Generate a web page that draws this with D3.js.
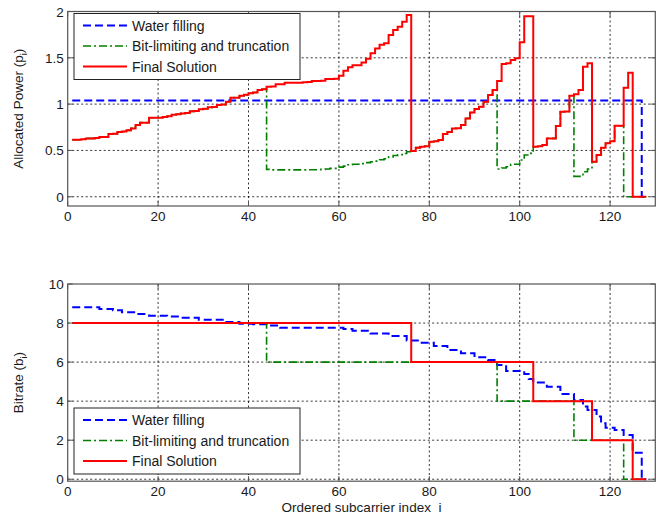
<!DOCTYPE html>
<html>
<head>
<meta charset="utf-8">
<script src="https://cdnjs.cloudflare.com/ajax/libs/d3/7.8.5/d3.min.js"></script>
<style>
body { margin: 0; background: #fff; }
text { font-family: "Liberation Sans", Arial, sans-serif; fill: #1a1a1a; }
</style>
</head>
<body>
<svg width="664" height="526"></svg>
<script>
// subcarrier index i = 1..128 (stairs, value held from i to i+1)
var subcarriers = d3.range(1, 129);

var xTicks = [0, 20, 40, 60, 80, 100, 120];
var powerTicks = [0, 0.5, 1, 1.5, 2];
var bitTicks = [0, 2, 4, 6, 8, 10];
var seriesNames = ["Water filling", "Bit-limiting and truncation", "Final Solution"];

var powerWater = [
 1.04,1.04,1.04,1.04,1.04,1.04,1.04,1.04,1.04,1.04,1.04,1.04,1.04,1.04,1.04,1.04,
 1.04,1.04,1.04,1.04,1.04,1.04,1.04,1.04,1.04,1.04,1.04,1.04,1.04,1.04,1.04,1.04,
 1.04,1.04,1.04,1.04,1.04,1.04,1.04,1.04,1.04,1.04,1.04,1.04,1.04,1.04,1.04,1.04,
 1.04,1.04,1.04,1.04,1.04,1.04,1.04,1.04,1.04,1.04,1.04,1.04,1.04,1.04,1.04,1.04,
 1.04,1.04,1.04,1.04,1.04,1.04,1.04,1.04,1.04,1.04,1.04,1.04,1.04,1.04,1.04,1.04,
 1.04,1.04,1.04,1.04,1.04,1.04,1.04,1.04,1.04,1.04,1.04,1.04,1.04,1.04,1.04,1.04,
 1.04,1.04,1.04,1.04,1.04,1.04,1.04,1.04,1.04,1.04,1.04,1.04,1.04,1.04,1.04,1.04,
 1.04,1.04,1.04,1.04,1.04,1.04,1.04,1.04,1.04,1.04,1.04,1.04,1.04,1.04,0,0];

var powerBitLimit = [
 0.616,0.616,0.62,0.63,0.63,0.635,0.645,0.645,0.677,0.68,0.699,0.705,0.717,0.738,0.774,0.80,
 0.80,0.853,0.853,0.853,0.86,0.868,0.886,0.89,0.90,0.905,0.922,0.925,0.944,0.95,0.965,0.97,
 0.99,0.995,1.026,1.07,1.07,1.09,1.10,1.117,1.125,1.152,1.16,0.295,0.29,0.29,0.29,0.29,
 0.29,0.29,0.29,0.29,0.292,0.292,0.292,0.295,0.30,0.306,0.306,0.32,0.33,0.345,0.35,0.35,
 0.358,0.368,0.378,0.385,0.40,0.41,0.43,0.445,0.453,0.467,0.485,0.493,0.53,0.54,0.545,0.594,
 0.60,0.612,0.677,0.70,0.738,0.74,0.774,0.846,0.91,0.947,0.972,1.026,1.098,1.152,0.30,0.31,
 0.324,0.35,0.35,0.396,0.45,0.468,0.54,0.545,0.558,0.63,0.63,0.763,0.918,0.92,1.09,0.22,
 0.22,0.27,0.30,0.378,0.45,0.529,0.577,0.60,0.767,0.767,0,0,0,0,0,0];

var powerFinal = [
 0.616,0.616,0.62,0.63,0.63,0.635,0.645,0.645,0.677,0.68,0.699,0.705,0.717,0.738,0.774,0.80,
 0.80,0.853,0.853,0.853,0.86,0.868,0.886,0.89,0.90,0.905,0.922,0.925,0.944,0.95,0.965,0.97,
 0.99,0.995,1.026,1.07,1.07,1.09,1.10,1.117,1.125,1.152,1.16,1.188,1.19,1.214,1.215,1.23,
 1.23,1.23,1.232,1.235,1.24,1.25,1.25,1.252,1.27,1.27,1.275,1.307,1.36,1.397,1.42,1.42,
 1.45,1.49,1.55,1.60,1.64,1.656,1.746,1.80,1.836,1.89,1.962,0.493,0.53,0.54,0.545,0.594,
 0.60,0.612,0.677,0.70,0.738,0.74,0.774,0.846,0.91,0.947,0.972,1.026,1.098,1.152,1.25,1.433,
 1.44,1.476,1.495,1.667,1.95,1.95,0.54,0.545,0.558,0.63,0.63,0.763,0.918,0.92,1.09,1.106,
 1.152,1.404,1.44,0.378,0.45,0.529,0.577,0.60,0.767,0.767,1.177,1.34,0,0,0,0];

var bitsWater = [
 8.81,8.81,8.81,8.81,8.81,8.81,8.72,8.72,8.72,8.65,8.65,8.55,8.55,8.55,8.46,8.46,
 8.46,8.38,8.38,8.38,8.38,8.33,8.33,8.33,8.27,8.27,8.27,8.27,8.17,8.17,8.17,8.17,
 8.17,8.17,8.05,8.05,8.05,7.97,7.97,7.97,7.94,7.94,7.94,7.88,7.88,7.88,7.76,7.76,
 7.76,7.76,7.76,7.76,7.76,7.76,7.76,7.76,7.76,7.76,7.76,7.76,7.70,7.70,7.61,7.61,
 7.61,7.61,7.47,7.47,7.47,7.47,7.34,7.34,7.34,7.34,7.10,7.10,7.10,6.99,6.99,6.99,
 6.83,6.83,6.83,6.62,6.62,6.62,6.45,6.45,6.45,6.25,6.25,6.25,6.11,6.11,5.85,5.85,
 5.55,5.55,5.55,5.55,5.39,5.14,4.95,4.95,4.95,4.74,4.74,4.74,4.37,4.37,4.37,4.06,
 4.06,3.72,3.55,3.55,3.21,2.87,2.64,2.64,2.52,2.52,2.27,2.27,1.36,1.36,0,0];

var bitsBitLimit = [
 8,8,8,8,8,8,8,8,8,8,8,8,8,8,8,8,
 8,8,8,8,8,8,8,8,8,8,8,8,8,8,8,8,
 8,8,8,8,8,8,8,8,8,8,8,6,6,6,6,6,
 6,6,6,6,6,6,6,6,6,6,6,6,6,6,6,6,
 6,6,6,6,6,6,6,6,6,6,6,6,6,6,6,6,
 6,6,6,6,6,6,6,6,6,6,6,6,6,6,4,4,
 4,4,4,4,4,4,4,4,4,4,4,4,4,4,4,2,
 2,2,2,2,2,2,2,2,2,2,0,0,0,0,0,0];

var bitsFinal = [
 8,8,8,8,8,8,8,8,8,8,8,8,8,8,8,8,
 8,8,8,8,8,8,8,8,8,8,8,8,8,8,8,8,
 8,8,8,8,8,8,8,8,8,8,8,8,8,8,8,8,
 8,8,8,8,8,8,8,8,8,8,8,8,8,8,8,8,
 8,8,8,8,8,8,8,8,8,8,8,6,6,6,6,6,
 6,6,6,6,6,6,6,6,6,6,6,6,6,6,6,6,
 6,6,6,6,6,6,4,4,4,4,4,4,4,4,4,4,
 4,4,4,2,2,2,2,2,2,2,2,2,0,0,0,0];

var svg = d3.select("svg");
var left = 67.7, right = 655.3;
var colors = ["#0000ff", "#008000", "#ff0000"],
    dashes = ["8,4", "8,3,2,3", null],
    widths = [2, 1.6, 2];

var x = d3.scaleLinear().domain([0, 130]).range([left, right]);

function panel(top, bottom, yDomain, yTicks, series, legendY, ylabel, sub, showXlabel) {
    var y = d3.scaleLinear().domain(yDomain).range([bottom, top]);
    var g = svg.append("g");

    g.append("rect")
    .attr("x", left).attr("y", top)
    .attr("width", right - left).attr("height", bottom - top)
    .attr("fill", "#fff");

    // grid
    g.selectAll(".vgrid")
    .data(xTicks.filter(function(d){return d > 0}))
    .enter().append("line")
    .attr("x1", function(d){return x(d)}).attr("x2", function(d){return x(d)})
    .attr("y1", top).attr("y2", bottom)
    .attr("stroke", "#000").attr("stroke-width", 0.8)
    .attr("stroke-dasharray", "2,2.5");

    g.selectAll(".hgrid")
    .data(yTicks.filter(function(d){return d < yDomain[1]}))
    .enter().append("line")
    .attr("x1", left).attr("x2", right)
    .attr("y1", function(d){return y(d)}).attr("y2", function(d){return y(d)})
    .attr("stroke", "#000").attr("stroke-width", 0.8)
    .attr("stroke-dasharray", "2,2.5");

    // series
    var line = d3.line()
    .curve(d3.curveStepAfter)
    .x(function(d, i){return x(subcarriers[i])})
    .y(function(d){return y(d)});

    series.forEach(function(vals, k){
        g.append("path")
        .datum(vals)
        .attr("d", line)
        .attr("fill", "none")
        .attr("stroke", colors[k])
        .attr("stroke-width", widths[k])
        .attr("stroke-dasharray", dashes[k])
        .attr("stroke-linejoin", "miter");
    });

    // frame and ticks
    g.append("rect")
    .attr("x", left).attr("y", top)
    .attr("width", right - left).attr("height", bottom - top)
    .attr("fill", "none").attr("stroke", "#555").attr("stroke-width", 1.2);

    xTicks.forEach(function(t){
        g.append("line").attr("x1", x(t)).attr("x2", x(t)).attr("y1", bottom).attr("y2", bottom - 5).attr("stroke", "#555");
        g.append("line").attr("x1", x(t)).attr("x2", x(t)).attr("y1", top).attr("y2", top + 5).attr("stroke", "#555");
        g.append("text")
        .attr("x", x(t)).attr("y", bottom + 15)
        .attr("text-anchor", "middle")
        .attr("font-size", "13.5px")
        .text(t);
    });

    yTicks.forEach(function(t){
        g.append("line").attr("x1", left).attr("x2", left + 5).attr("y1", y(t)).attr("y2", y(t)).attr("stroke", "#555");
        g.append("line").attr("x1", right).attr("x2", right - 5).attr("y1", y(t)).attr("y2", y(t)).attr("stroke", "#555");
        g.append("text")
        .attr("x", left - 4).attr("y", y(t) + 5)
        .attr("text-anchor", "end")
        .attr("font-size", "13.5px")
        .text(t);
    });

    // y label
    var yl = g.append("text")
    .attr("transform", "translate(" + (left - 45) + "," + ((top + bottom) / 2) + ") rotate(-90)")
    .attr("text-anchor", "middle")
    .attr("font-size", "13.5px");
    yl.append("tspan").text(ylabel + " (" + sub);
    yl.append("tspan").attr("font-size", "9px").attr("dy", 4).text("i");
    yl.append("tspan").attr("dy", -4).text(")");

    if (showXlabel) {
        g.append("text")
        .attr("x", (left + right) / 2).attr("y", bottom + 31)
        .attr("text-anchor", "middle")
        .attr("font-size", "13.5px")
        .text("Ordered subcarrier index\u00a0\u00a0i");
    }

    // legend
    var lg = g.append("g").attr("transform", "translate(74," + legendY + ")");
    lg.append("rect")
    .attr("x", 0).attr("y", 0).attr("width", 226).attr("height", 66)
    .attr("fill", "#fff").attr("stroke", "#222").attr("stroke-width", 1);
    seriesNames.forEach(function(name, k){
        var ly = 12 + k * 20.5;
        lg.append("line")
        .attr("x1", 9).attr("x2", 53).attr("y1", ly).attr("y2", ly)
        .attr("stroke", colors[k]).attr("stroke-width", widths[k])
        .attr("stroke-dasharray", dashes[k]);
        lg.append("text")
        .attr("x", 58).attr("y", ly + 5)
        .attr("font-size", "14px")
        .text(name);
    });
}

panel(11.5, 206, [-0.1, 2], powerTicks, [powerWater, powerBitLimit, powerFinal], 13.5, "Allocated Power", "p", false);
panel(284, 481.2, [-0.1, 10], bitTicks, [bitsWater, bitsBitLimit, bitsFinal], 408, "Bitrate", "b", true);
</script>
</body>
</html>
